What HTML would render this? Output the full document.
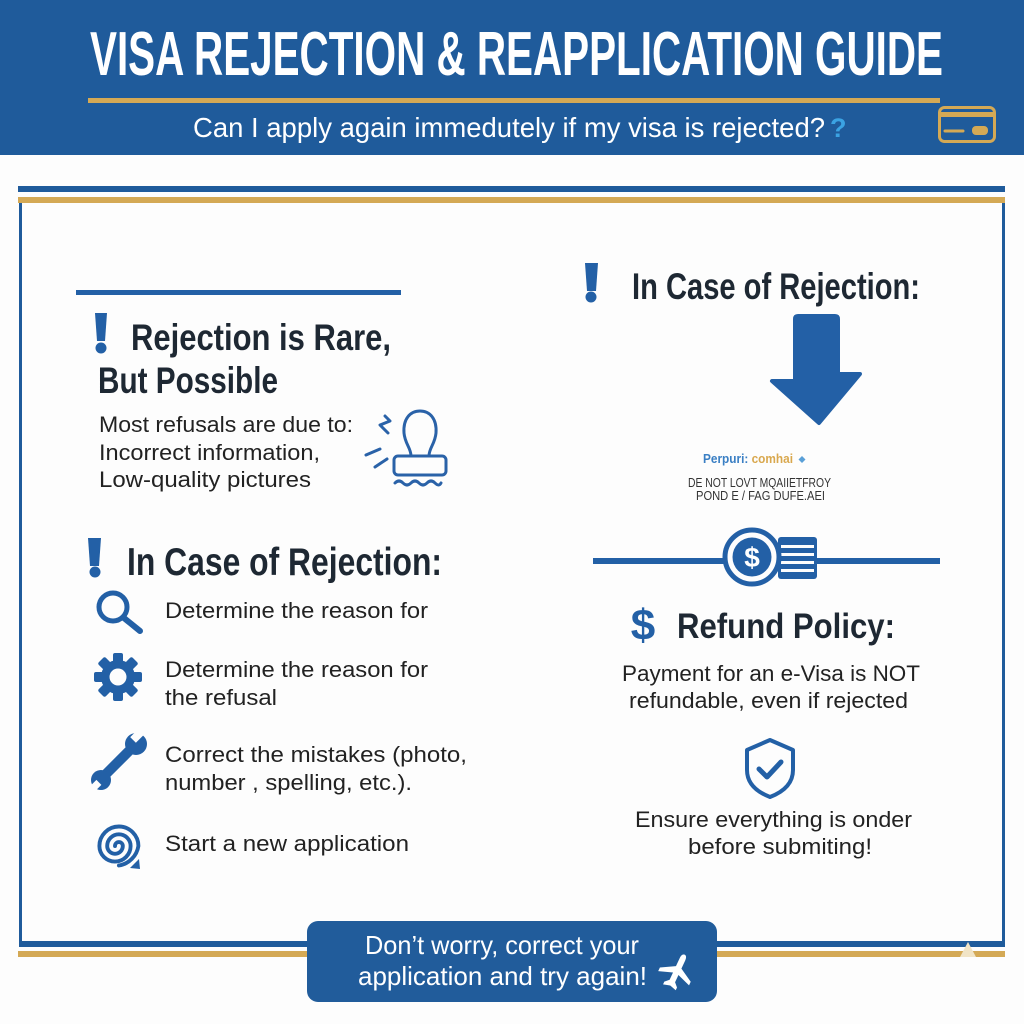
<!DOCTYPE html>
<html><head><meta charset="utf-8"><style>
html,body{margin:0;padding:0;background:#fff;}
svg{display:block;}
</style></head><body>
<svg width="1024" height="1024" viewBox="0 0 1024 1024" xmlns="http://www.w3.org/2000/svg">
<rect width="1024" height="1024" fill="#fdfdfd"/>
<!-- header -->
<rect x="0" y="0" width="1024" height="155" fill="#1f5b9b"/>
<text x="90" y="75" font-family="'Liberation Sans Narrow','Liberation Sans',sans-serif" font-weight="bold" font-size="62" fill="#ffffff" textLength="853" lengthAdjust="spacingAndGlyphs">VISA REJECTION &amp; REAPPLICATION GUIDE</text>
<rect x="88" y="98" width="852" height="5" fill="#d4a955"/>
<text x="193" y="137" font-family="'Liberation Sans Narrow','Liberation Sans',sans-serif" font-size="28" fill="#ffffff" textLength="632" lengthAdjust="spacingAndGlyphs">Can I apply again immedutely if my visa is rejected?</text>
<text x="830" y="137" font-family="'Liberation Sans',sans-serif" font-weight="bold" font-size="27" fill="#3ba3e3">?</text>
<!-- card icon -->
<rect x="939.5" y="107.5" width="55" height="34" rx="5" fill="none" stroke="#d4a955" stroke-width="3"/>
<rect x="940" y="112" width="54" height="5" fill="#d4a955"/>
<line x1="945" y1="131" x2="963" y2="131" stroke="#d4a955" stroke-width="3" stroke-linecap="round"/>
<rect x="972" y="126" width="16" height="9" rx="4" fill="#d4a955"/>

<!-- frame -->
<rect x="18" y="186" width="987" height="6" fill="#1f5b9b"/>
<rect x="18" y="197" width="987" height="6" fill="#d4a955"/>
<rect x="19" y="203" width="3" height="741" fill="#1f5b9b"/>
<rect x="1002" y="203" width="3" height="741" fill="#1f5b9b"/>
<rect x="19" y="941" width="986" height="6" fill="#1f5b9b"/>
<rect x="18" y="951" width="987" height="6" fill="#d4a955"/>
<polygon points="968,942 960,957 976,957" fill="#f1e4c6"/>

<!-- LEFT COLUMN -->
<rect x="76" y="290" width="325" height="5" fill="#2360a6"/>
<path d="M95 313 H107 L105 341 H97 Z" fill="#2360a6"/>
<circle cx="101" cy="348" r="5.5" fill="#2360a6"/>
<text x="131" y="350" font-family="'Liberation Sans Narrow','Liberation Sans',sans-serif" font-weight="bold" font-size="37" fill="#1e2833" textLength="260" lengthAdjust="spacingAndGlyphs">Rejection is Rare,</text>
<text x="98" y="393" font-family="'Liberation Sans Narrow','Liberation Sans',sans-serif" font-weight="bold" font-size="37" fill="#1e2833" textLength="180" lengthAdjust="spacingAndGlyphs">But Possible</text>
<g font-family="'Liberation Sans',sans-serif" font-size="22.5" fill="#222">
<text x="99" y="432" textLength="254" lengthAdjust="spacingAndGlyphs">Most refusals are due to:</text>
<text x="99" y="460" textLength="221" lengthAdjust="spacingAndGlyphs">Incorrect information,</text>
<text x="99" y="487" textLength="212" lengthAdjust="spacingAndGlyphs">Low-quality pictures</text>
</g>
<!-- stamp -->
<g fill="none" stroke="#2a62a8" stroke-width="3" stroke-linecap="round" stroke-linejoin="round">
<path d="M411 456 C411 448 405 444 404 433 C403 419 410 411 420 411 C430 411 437 419 436 433 C435 444 429 448 429 456"/>
<rect x="394" y="456" width="52" height="19" rx="4"/>
<path d="M395 483 q4 -4 8 0 t8 0 t8 0 t8 0 t8 0 t6 0"/>
<path d="M385 416 l5 5 l-10 4 l8 8"/>
<line x1="366" y1="455" x2="380" y2="449"/>
<line x1="375" y1="467" x2="387" y2="459"/>
</g>

<!-- In Case of Rejection left -->
<path d="M88 538 H101 L99 566 H90 Z" fill="#2360a6"/>
<circle cx="95" cy="572" r="5.5" fill="#2360a6"/>
<text x="127" y="575" font-family="'Liberation Sans Narrow','Liberation Sans',sans-serif" font-weight="bold" font-size="39" fill="#1e2833" textLength="315" lengthAdjust="spacingAndGlyphs">In Case of Rejection:</text>
<!-- magnifier -->
<circle cx="113" cy="607" r="14" fill="none" stroke="#2360a6" stroke-width="5"/>
<line x1="124" y1="618" x2="140" y2="631" stroke="#2360a6" stroke-width="6" stroke-linecap="round"/>
<!-- gear -->
<g transform="translate(118 677)" fill="#2360a6">
<circle r="17"/>
<rect x="-5" y="-24" width="10" height="12" rx="2"/>
<rect x="-5" y="-24" width="10" height="12" rx="2" transform="rotate(45)"/>
<rect x="-5" y="-24" width="10" height="12" rx="2" transform="rotate(90)"/>
<rect x="-5" y="-24" width="10" height="12" rx="2" transform="rotate(135)"/>
<rect x="-5" y="-24" width="10" height="12" rx="2" transform="rotate(180)"/>
<rect x="-5" y="-24" width="10" height="12" rx="2" transform="rotate(225)"/>
<rect x="-5" y="-24" width="10" height="12" rx="2" transform="rotate(270)"/>
<rect x="-5" y="-24" width="10" height="12" rx="2" transform="rotate(315)"/>
<circle r="8.5" fill="#fdfdfd"/>
</g>
<!-- wrench -->
<g fill="#2360a6">
<line x1="104" y1="776" x2="132" y2="748" stroke="#2360a6" stroke-width="10" stroke-linecap="round"/>
<circle cx="136" cy="744" r="11"/>
<circle cx="101" cy="780" r="10"/>
<rect x="134" y="729" width="8" height="13" fill="#fdfdfd" transform="rotate(45 138 735)"/>
<rect x="91" y="781" width="7" height="12" fill="#fdfdfd" transform="rotate(45 95 787)"/>
</g>
<!-- spiral -->
<g transform="translate(115 846) scale(1.3)">
<path d="M0 0 a3 3 0 0 1 6 0 a6 6 0 0 1 -12 0 a9 9 0 0 1 18 0 a12 12 0 0 1 -24 0 a15 15 0 0 1 30 0 a18 18 0 0 1 -15 15" fill="none" stroke="#2360a6" stroke-width="3" stroke-linecap="round"/>
</g>
<path d="M130 868 l9 -9 l1 10 z" fill="#2360a6"/>
<g font-family="'Liberation Sans',sans-serif" font-size="22.5" fill="#222">
<text x="165" y="618" textLength="263" lengthAdjust="spacingAndGlyphs">Determine the reason for</text>
<text x="165" y="677" textLength="263" lengthAdjust="spacingAndGlyphs">Determine the reason for</text>
<text x="165" y="705" textLength="112" lengthAdjust="spacingAndGlyphs">the refusal</text>
<text x="165" y="762" textLength="302" lengthAdjust="spacingAndGlyphs">Correct the mistakes (photo,</text>
<text x="165" y="790" textLength="247" lengthAdjust="spacingAndGlyphs">number , spelling, etc.).</text>
<text x="165" y="851" textLength="244" lengthAdjust="spacingAndGlyphs">Start a new application</text>
</g>

<!-- RIGHT COLUMN -->
<path d="M585 263 H598 L596 291 H587 Z" fill="#2360a6"/>
<circle cx="591" cy="297" r="5.5" fill="#2360a6"/>
<text x="632" y="299" font-family="'Liberation Sans Narrow','Liberation Sans',sans-serif" font-weight="bold" font-size="37" fill="#1e2833" textLength="288" lengthAdjust="spacingAndGlyphs">In Case of Rejection:</text>
<!-- big arrow -->
<path d="M798 316 H835 Q838 316 838 319 V374 H860 L819 423 L772 381 H795 V319 Q795 316 798 316 Z" fill="#2360a6" stroke="#2360a6" stroke-width="4" stroke-linejoin="round"/>
<!-- garbled text -->
<text x="703" y="463" font-family="'Liberation Sans Narrow','Liberation Sans',sans-serif" font-weight="bold" font-size="13" textLength="90" lengthAdjust="spacingAndGlyphs"><tspan fill="#3a7fc4">Perpuri:</tspan><tspan fill="#d9a84e"> comhai</tspan></text>
<path d="M802 456 l3.5 3.5 l-3.5 3.5 l-3.5 -3.5 z" fill="#5aa0d8"/>
<g font-family="'Liberation Sans Narrow','Liberation Sans',sans-serif" font-size="12.5" fill="#333">
<text x="688" y="487" textLength="143" lengthAdjust="spacingAndGlyphs">DE NOT LOVT MQAIIETFROY</text>
<text x="696" y="500" textLength="129" lengthAdjust="spacingAndGlyphs">POND E / FAG DUFE.AEI</text>
</g>
<!-- coin line -->
<rect x="593" y="558" width="347" height="6" fill="#2360a6"/>
<rect x="778" y="537" width="39" height="42" rx="3" fill="#2360a6"/>
<g fill="#fdfdfd">
<rect x="781" y="545" width="33" height="3"/>
<rect x="781" y="553" width="33" height="3"/>
<rect x="781" y="561" width="33" height="3"/>
<rect x="781" y="569" width="33" height="3"/>
</g>
<circle cx="752" cy="557" r="27" fill="#fdfdfd" stroke="#2360a6" stroke-width="5"/>
<circle cx="752" cy="557" r="19.5" fill="#2360a6"/>
<text x="752" y="567" text-anchor="middle" font-family="'Liberation Sans',sans-serif" font-weight="bold" font-size="28" fill="#fff">$</text>
<!-- refund -->
<text x="643" y="640" text-anchor="middle" font-family="'Liberation Sans',sans-serif" font-weight="bold" font-size="44" fill="#2360a6">$</text>
<text x="677" y="638" font-family="'Liberation Sans Narrow','Liberation Sans',sans-serif" font-weight="bold" font-size="35" fill="#1e2833" textLength="218" lengthAdjust="spacingAndGlyphs">Refund Policy:</text>
<g font-family="'Liberation Sans',sans-serif" font-size="22.5" fill="#222">
<text x="622" y="681" textLength="298" lengthAdjust="spacingAndGlyphs">Payment for an e-Visa is NOT</text>
<text x="629" y="708" textLength="279" lengthAdjust="spacingAndGlyphs">refundable, even if rejected</text>
<text x="635" y="827" textLength="277" lengthAdjust="spacingAndGlyphs">Ensure everything is onder</text>
<text x="688" y="854" textLength="184" lengthAdjust="spacingAndGlyphs">before submiting!</text>
</g>
<!-- shield -->
<path d="M770 740 L793 750 V770 C793 784 783 792 770 797 C757 792 747 784 747 770 V750 Z" fill="none" stroke="#2360a6" stroke-width="4" stroke-linejoin="round"/>
<path d="M759 769 L767 777 L781 762" fill="none" stroke="#2360a6" stroke-width="5" stroke-linecap="round" stroke-linejoin="round"/>

<!-- bottom button -->
<rect x="307" y="921" width="410" height="81" rx="11" fill="#215c9b"/>
<g font-family="'Liberation Sans Narrow','Liberation Sans',sans-serif" font-size="26" fill="#fff">
<text x="365" y="954" textLength="274" lengthAdjust="spacingAndGlyphs">Don’t worry, correct your</text>
<text x="358" y="985" textLength="289" lengthAdjust="spacingAndGlyphs">application and try again!</text>
</g>
<path transform="translate(677 971) rotate(25)" d="M0 -18 C2 -18 3 -16 3 -13 L3 -4 L17 4 L17 8 L3 3 L3 11 L7 15 L7 18 L0 16 L-7 18 L-7 15 L-3 11 L-3 3 L-17 8 L-17 4 L-3 -4 L-3 -13 C-3 -16 -2 -18 0 -18 Z" fill="#fff"/>
</svg>
</body></html>
